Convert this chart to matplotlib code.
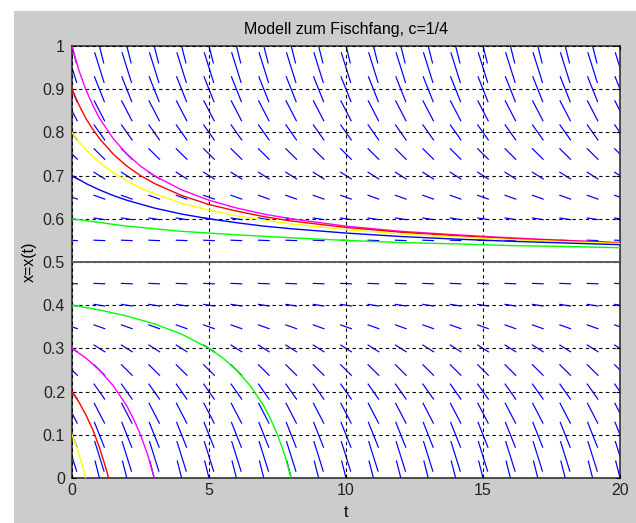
import numpy as np
import matplotlib.pyplot as plt
from matplotlib.patches import Rectangle

plt.rcParams['font.family'] = ['Liberation Sans', 'DejaVu Sans']
plt.rcParams['font.size'] = 11.5

# Richtungsfeld: Gitter und Steigung je Zeile (Modell x' = x(1-x) - c, c = 1/4)
field_t = [0, 1, 2, 3, 4, 5, 6, 7, 8, 9, 10, 11, 12, 13, 14, 15, 16, 17, 18, 19, 20]
field_x = [0.0, 0.05, 0.1, 0.15, 0.2, 0.25, 0.3, 0.35, 0.4, 0.45, 0.5,
           0.55, 0.6, 0.65, 0.7, 0.75, 0.8, 0.85, 0.9, 0.95, 1.0]
field_slope = [-0.25, -0.2025, -0.16, -0.1225, -0.09, -0.0625, -0.04, -0.0225, -0.01, -0.0025, 0.0,
               -0.0025, -0.01, -0.0225, -0.04, -0.0625, -0.09, -0.1225, -0.16, -0.2025, -0.25]

# Loesungskurven
sol_10_t = [0, 0.25, 0.5, 0.75, 1, 1.5, 2, 2.5, 3, 4, 5, 6, 7, 8, 10, 12, 14, 16, 18, 20]
sol_10_x = [1.0, 0.944, 0.9, 0.864, 0.833, 0.786, 0.75, 0.722, 0.7, 0.667, 0.643, 0.625,
            0.611, 0.6, 0.583, 0.571, 0.563, 0.556, 0.55, 0.545]
sol_09_t = [0, 0.25, 0.5, 0.75, 1, 1.5, 2, 2.5, 3, 4, 5, 6, 7, 8, 10, 12, 14, 16, 18, 20]
sol_09_x = [0.9, 0.864, 0.833, 0.808, 0.786, 0.75, 0.722, 0.7, 0.682, 0.654, 0.633, 0.618,
            0.605, 0.595, 0.58, 0.569, 0.561, 0.554, 0.549, 0.544]
sol_08_t = [0, 0.25, 0.5, 0.75, 1, 1.5, 2, 2.5, 3, 4, 5, 6, 7, 8, 10, 12, 14, 16, 18, 20]
sol_08_x = [0.8, 0.779, 0.761, 0.745, 0.731, 0.707, 0.688, 0.671, 0.658, 0.636, 0.62, 0.607,
            0.597, 0.588, 0.575, 0.565, 0.558, 0.552, 0.547, 0.543]
sol_07_t = [0, 0.5, 1, 1.5, 2, 3, 4, 5, 6, 7, 8, 10, 12, 14, 16, 18, 20]
sol_07_x = [0.7, 0.682, 0.667, 0.654, 0.643, 0.625, 0.611, 0.6, 0.591, 0.583, 0.577,
            0.567, 0.559, 0.553, 0.548, 0.544, 0.54]
sol_06_t = [0, 2, 4, 6, 8, 10, 12, 14, 16, 18, 20]
sol_06_x = [0.6, 0.583, 0.571, 0.563, 0.556, 0.55, 0.545, 0.542, 0.538, 0.536, 0.533]
sol_04_t = [0, 1, 2, 3, 4, 5, 5.5, 6, 6.5, 7, 7.25, 7.5, 7.75, 8]
sol_04_x = [0.4, 0.389, 0.375, 0.357, 0.333, 0.3, 0.278, 0.25, 0.214, 0.167, 0.136, 0.1, 0.056, 0.0]
sol_03_t = [0, 0.5, 1, 1.5, 2, 2.25, 2.5, 2.75, 3]
sol_03_x = [0.3, 0.278, 0.25, 0.214, 0.167, 0.136, 0.1, 0.056, 0.0]
sol_02_t = [0, 0.25, 0.5, 0.75, 1, 1.25, 1.333]
sol_02_x = [0.2, 0.176, 0.147, 0.113, 0.071, 0.02, 0.0]
sol_01_t = [0, 0.1, 0.2, 0.3, 0.4, 0.5]
sol_01_x = [0.1, 0.083, 0.065, 0.045, 0.024, 0.0]

x_equilibrium = 0.5

fig = plt.figure(figsize=(6.36, 5.23), dpi=100)
fig.patch.set_facecolor('white')
fig.add_artist(Rectangle((14 / 636, 0), 1 - 14 / 636, (523 - 11) / 523,
                         transform=fig.transFigure, facecolor='#cccccc',
                         edgecolor='none', zorder=-1))
ax = fig.add_axes([72 / 636, 45 / 523, 548 / 636, 432 / 523])

T, X = np.meshgrid(field_t, field_x)
S = np.array(field_slope)[:, None] * np.ones_like(T, dtype=float)
norm = 1 / np.sqrt(1 + (3.5 * S) ** 2)
ax.quiver(T, X, 0.43 * norm, 0.43 * norm * S, angles='xy', scale_units='xy', scale=1,
          pivot='mid', color='#0000ff', headwidth=0, headlength=0, headaxislength=0,
          width=0.0022, zorder=2)

ax.axhline(x_equilibrium, color='#606060', lw=1.4, zorder=3)
curves = [(sol_10_t, sol_10_x, '#ff00ff'), (sol_09_t, sol_09_x, '#ff0000'),
          (sol_08_t, sol_08_x, '#ffff00'), (sol_07_t, sol_07_x, '#0000ff'),
          (sol_06_t, sol_06_x, '#00ff00'), (sol_04_t, sol_04_x, '#00ff00'),
          (sol_03_t, sol_03_x, '#ff00ff'), (sol_02_t, sol_02_x, '#ff0000'),
          (sol_01_t, sol_01_x, '#ffff00')]
for t, x, c in curves:
    ax.plot(t, x, color=c, lw=1.0, zorder=4)

ax.set_xlim(0, 20)
ax.set_ylim(0, 1)
ax.set_xticks([0, 5, 10, 15, 20])
ax.set_yticks(np.arange(0, 11) / 10)
ax.set_yticklabels(['0', '0.1', '0.2', '0.3', '0.4', '0.5', '0.6', '0.7', '0.8', '0.9', '1'])
ax.grid(True, color='black', lw=0.8, ls=(0, (3, 3)))
ax.set_axisbelow(False)
ax.tick_params(direction='in', length=3, top=True, right=True, color='black',
               labelcolor='#222222')
ax.tick_params(axis='y', pad=5)
ax.tick_params(axis='x', pad=3.5)
for s in ax.spines.values():
    s.set_color('#333333')
    s.set_linewidth(1.2)

ax.set_title('Modell zum Fischfang, c=1/4', fontsize=11.5, pad=8.6)
ax.set_xlabel('t', labelpad=5)
ax.set_ylabel('x=x(t)', labelpad=4)

fig.savefig('out.png', dpi=100, facecolor=fig.get_facecolor())
